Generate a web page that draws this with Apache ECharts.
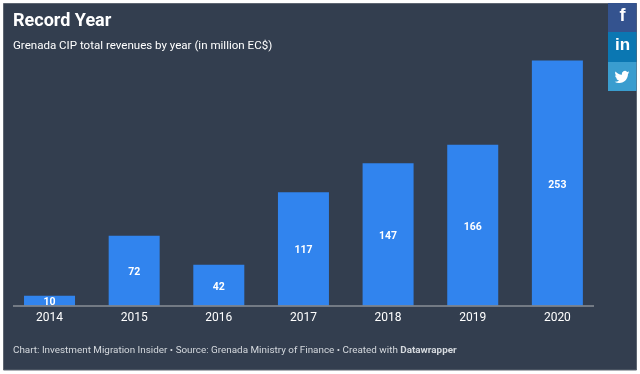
<!DOCTYPE html>
<html><head><meta charset="utf-8">
<style>html,body{margin:0;padding:0;background:#fff}#c{width:640px;height:374px}</style>
<script src="https://cdn.jsdelivr.net/npm/echarts@6/dist/echarts.min.js"></script>
</head><body><div id="c"></div>
<script>
const years = ['2014','2015','2016','2017','2018','2019','2020'];
const revenues = [10,72,42,117,147,166,253];
const titleText = 'Record Year';
const subtitleText = 'Grenada CIP total revenues by year (in million EC$)';
const sourceText = 'Chart: Investment Migration Insider • Source: Grenada Ministry of Finance • Created with ';
const creditText = 'Datawrapper';
const font = 'Roboto';
const birdSvg = '<svg xmlns="http://www.w3.org/2000/svg" viewBox="0 0 24 24"><path fill="#fff" d="M23.95 4.57a10 10 0 0 1-2.82.77 4.96 4.96 0 0 0 2.16-2.72c-.95.55-2 .95-3.13 1.18a4.92 4.92 0 0 0-8.38 4.48C7.69 8.1 4.07 6.13 1.64 3.16a4.82 4.82 0 0 0-.67 2.48c0 1.71.87 3.21 2.19 4.1a4.9 4.9 0 0 1-2.23-.62v.06c0 2.38 1.69 4.37 3.95 4.83a5 5 0 0 1-2.21.08 4.94 4.94 0 0 0 4.6 3.42A9.87 9.87 0 0 1 0 19.54a14 14 0 0 0 7.56 2.21c9.05 0 14-7.5 14-13.98 0-.21 0-.42-.02-.63a9.94 9.94 0 0 0 2.41-2.55z"/></svg>';
const chart = echarts.init(document.getElementById('c'), null, {renderer:'canvas'});
chart.setOption({
  animation:false,
  backgroundColor:'#ffffff',
  title:[
    {text:titleText,left:13,top:10,padding:0,textStyle:{color:'#fff',fontFamily:font,fontSize:18,fontWeight:700,lineHeight:22}},
    {text:subtitleText,left:13,top:38.5,padding:0,textStyle:{color:'#fff',fontFamily:font,fontSize:11.55,fontWeight:400,lineHeight:15}},
    {text:'{a|'+sourceText+'}{b|'+creditText+'}',left:13,top:345.5,padding:0,textStyle:{fontWeight:400,rich:{
      a:{color:'#d5d9de',fontFamily:font,fontSize:9.9,fontWeight:400},
      b:{color:'#d5d9de',fontFamily:font,fontSize:9.9,fontWeight:700}}}}
  ],
  grid:{left:7.2,width:592.5,top:60.5,height:245,containLabel:false},
  xAxis:{type:'category',data:years,axisLine:{show:false},axisTick:{show:false},
    axisLabel:{color:'#fff',fontFamily:font,fontSize:12,margin:6}},
  yAxis:{type:'value',min:0,max:253,show:false,splitLine:{show:false}},
  series:[{type:'bar',data:revenues,barWidth:51,z:3,
    itemStyle:{color:'#3184ee'},
    label:{show:true,position:'inside',offset:[0,2],color:'#fff',fontFamily:font,fontSize:10.5,fontWeight:700}}],
  graphic:[
    {type:'rect',z:-10,silent:true,shape:{x:3.5,y:3.5,width:633,height:366.5},
      style:{fill:'#333e4f',stroke:'#5e6672',lineWidth:1}},
    {type:'line',z:5,silent:true,shape:{x1:13,y1:306,x2:594,y2:306},style:{stroke:'#8a8f96',lineWidth:1.4}},
    {type:'rect',z:5,silent:true,shape:{x:608,y:3,width:28.5,height:29},style:{fill:'#34538f'}},
    {type:'rect',z:5,silent:true,shape:{x:608,y:32,width:28.5,height:30},style:{fill:'#0b77b2'}},
    {type:'rect',z:5,silent:true,shape:{x:608,y:62,width:28.5,height:29},style:{fill:'#3a9dcf'}},
    {type:'text',z:6,silent:true,style:{x:622.5,y:16.5,text:'f',fill:'#fff',font:'700 18px "Liberation Sans"',align:'center',verticalAlign:'middle'}},
    {type:'text',z:6,silent:true,style:{x:622.5,y:45.5,text:'in',fill:'#fff',font:'700 17px "Liberation Sans"',align:'center',verticalAlign:'middle'}},
    {type:'image',z:6,silent:true,style:{image:'data:image/svg+xml;charset=utf-8,'+encodeURIComponent(birdSvg),x:614.5,y:69.5,width:15,height:15}}
  ]
});
</script></body></html>
